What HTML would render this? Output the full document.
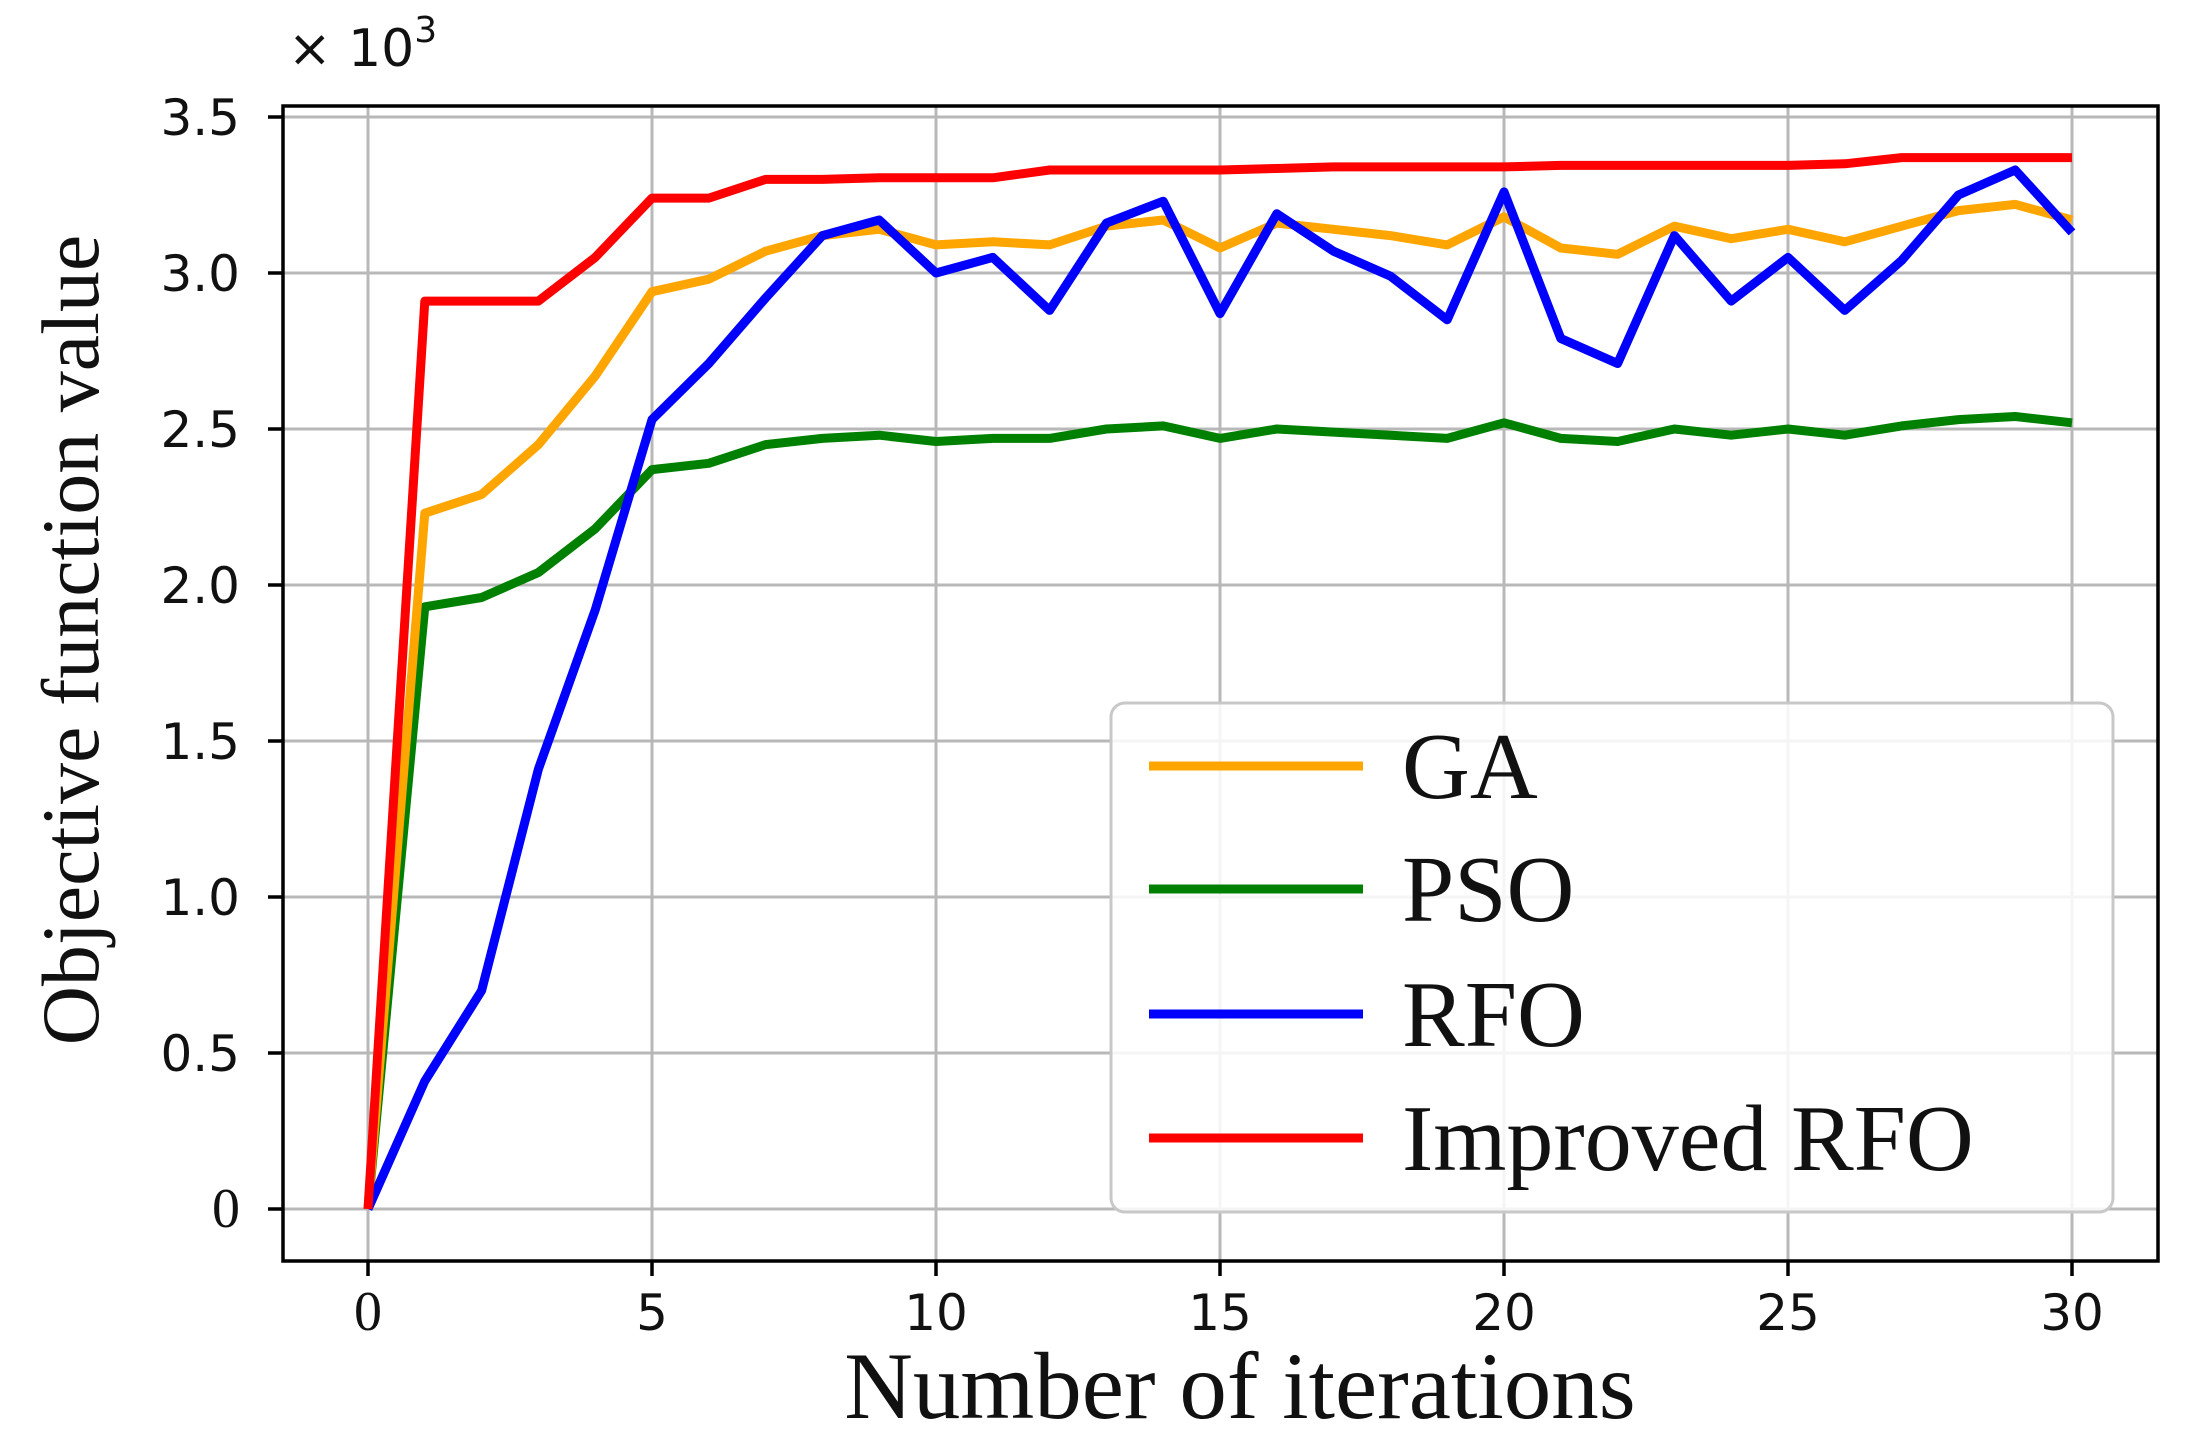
<!DOCTYPE html>
<html><head><meta charset="utf-8"><style>
html,body{margin:0;padding:0;background:#fff;}
svg{display:block;}
</style></head><body>
<svg id="s" width="2192" height="1440" viewBox="0 0 2192 1440" xmlns="http://www.w3.org/2000/svg">
<rect width="2192" height="1440" fill="#fff"/>
<g id="grid" stroke="#b8b8b8" stroke-width="3"></g>
<g id="series" fill="none" stroke-width="9" stroke-linejoin="round"></g>
<rect x="283" y="106" width="1875" height="1155" fill="none" stroke="#000" stroke-width="3.5"/>
<g id="ticks" stroke="#000" stroke-width="3.5"></g>
<g id="labels" fill="#111"></g>
<text x="288" y="66" font-family="DejaVu Sans, sans-serif" font-size="52" fill="#111">× 10<tspan dy="-24" font-size="36">3</tspan></text>
<g>
<rect x="1111" y="703" width="1002" height="509" rx="14" fill="#fff" fill-opacity="0.85" stroke="#c8c8c8" stroke-width="3"/>
<line x1="1149" y1="766" x2="1363" y2="766" stroke="#FFA500" stroke-width="9"/>
<line x1="1149" y1="889" x2="1363" y2="889" stroke="#008000" stroke-width="9"/>
<line x1="1149" y1="1014" x2="1363" y2="1014" stroke="#0000FF" stroke-width="9"/>
<line x1="1149" y1="1138" x2="1363" y2="1138" stroke="#FF0000" stroke-width="9"/>
<g font-family="Liberation Serif, serif" font-size="94" fill="#111">
<text x="1402" y="798">GA</text>
<text x="1402" y="921">PSO</text>
<text x="1402" y="1046">RFO</text>
<text x="1402" y="1170">Improved RFO</text>
</g>
</g>
<text x="1240" y="1418" text-anchor="middle" font-family="Liberation Serif, serif" font-size="95" fill="#111">Number of iterations</text>
<text transform="translate(98,640) rotate(-90)" text-anchor="middle" font-family="Liberation Serif, serif" font-size="82" fill="#111">Objective function value</text>
</svg>
<script>
const NS="http://www.w3.org/2000/svg";
const X=i=>368+56.8*i, Y=v=>1209-312*v;
function el(p,t,a,txt){const e=document.createElementNS(NS,t);for(const k in a)e.setAttribute(k,a[k]);if(txt!=null)e.textContent=txt;document.getElementById(p).appendChild(e);}
for(let i=0;i<=30;i+=5){el("grid","line",{x1:X(i),y1:106,x2:X(i),y2:1261});el("ticks","line",{x1:X(i),y1:1261,x2:X(i),y2:1276});
 el("labels","text",{x:X(i),y:1330,"text-anchor":"middle","font-family":i==0?"Liberation Serif, serif":"DejaVu Sans, sans-serif","font-size":i==0?56:50},String(i));}
for(let k=0;k<=7;k++){const v=k*0.5;el("grid","line",{x1:283,y1:Y(v),x2:2158,y2:Y(v)});el("ticks","line",{x1:268,y1:Y(v),x2:283,y2:Y(v)});
 el("labels","text",{x:240,y:Y(v)+18,"text-anchor":"end","font-family":k==0?"Liberation Serif, serif":"DejaVu Sans, sans-serif","font-size":k==0?56:50},k==0?"0":v.toFixed(1));}
const S={
"#008000":[0,1.93,1.96,2.04,2.18,2.37,2.39,2.45,2.47,2.48,2.46,2.47,2.47,2.50,2.51,2.47,2.50,2.49,2.48,2.47,2.52,2.47,2.46,2.50,2.48,2.50,2.48,2.51,2.53,2.54,2.52],
"#FFA500":[0,2.23,2.29,2.45,2.67,2.94,2.98,3.07,3.12,3.14,3.09,3.10,3.09,3.15,3.17,3.08,3.16,3.14,3.12,3.09,3.18,3.08,3.06,3.15,3.11,3.14,3.10,3.15,3.20,3.22,3.17],
"#0000FF":[0,0.41,0.70,1.41,1.92,2.53,2.71,2.92,3.12,3.17,3.00,3.05,2.88,3.16,3.23,2.87,3.19,3.07,2.99,2.85,3.26,2.79,2.71,3.12,2.91,3.05,2.88,3.04,3.25,3.33,3.13],
"#FF0000":[0,2.91,2.91,2.91,3.05,3.24,3.24,3.30,3.30,3.305,3.305,3.305,3.33,3.33,3.33,3.33,3.335,3.34,3.34,3.34,3.34,3.345,3.345,3.345,3.345,3.345,3.35,3.37,3.37,3.37,3.37]};
for(const c in S){el("series","polyline",{stroke:c,points:S[c].map((v,i)=>X(i).toFixed(1)+","+Y(v).toFixed(1)).join(" ")});}
</script>
</body></html>
